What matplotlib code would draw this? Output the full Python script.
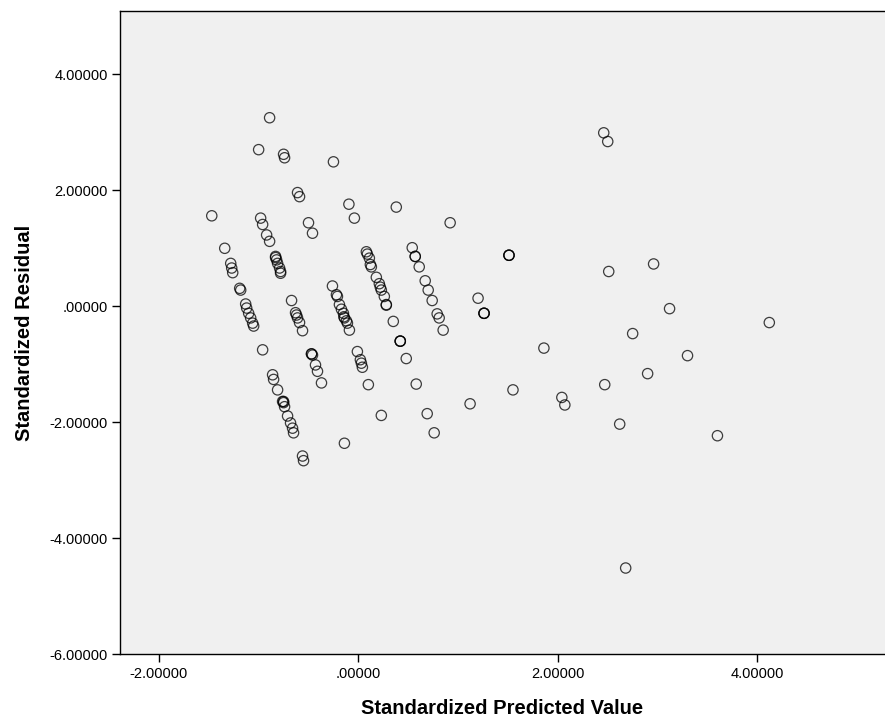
import numpy as np
import matplotlib
matplotlib.use("Agg")
import matplotlib.pyplot as plt
from matplotlib.ticker import FuncFormatter

plt.rcParams['font.family'] = ['Liberation Sans', 'DejaVu Sans']

# Standardized predicted value (x) and standardized residual (y)
pred = [
    -1.47, -1.34, -1.28, -1.27, -1.26, -1.19, -1.18,
    -1.13, -1.12, -1.10, -1.08, -1.06, -1.05,
    -1.00, -0.98, -0.96, -0.92, -0.89, -0.89,
    -0.83, -0.83, -0.82, -0.81, -0.79, -0.78, -0.78,
    -0.96,
    -0.86, -0.85, -0.81, -0.76, -0.75, -0.75, -0.74, -0.71, -0.68, -0.66, -0.65,
    -0.56, -0.55,
    -0.75, -0.74, -0.61, -0.59, -0.50, -0.46,
    -0.67, -0.63, -0.62, -0.61, -0.59, -0.56,
    -0.47, -0.47, -0.46, -0.43, -0.41, -0.37,
    -0.25, -0.095, -0.04,
    -0.26, -0.22, -0.21, -0.19, -0.17, -0.15, -0.145, -0.14, -0.12, -0.11, -0.09,
    -0.01, 0.02, 0.03, 0.04, 0.10,
    -0.14,
    0.38,
    0.08, 0.09, 0.11, 0.12, 0.13, 0.18, 0.21, 0.22, 0.23, 0.26, 0.28, 0.28,
    0.35, 0.42, 0.42, 0.42, 0.48, 0.58, 0.23,
    0.92, 0.54, 0.57, 0.57, 0.61, 0.67, 0.70, 0.74, 0.79, 0.81, 0.85,
    0.69, 0.76,
    1.12, 1.20, 1.26, 1.26, 1.26, 1.51, 1.51, 1.51, 1.55, 1.86,
    2.04, 2.07, 2.46, 2.50, 2.51, 2.47, 2.62, 2.68, 2.75, 2.90, 2.96,
    3.12, 3.30, 3.60, 4.12,
]
resid = [
    1.56, 1.00, 0.74, 0.66, 0.58, 0.31, 0.28,
    0.04, -0.03, -0.12, -0.20, -0.29, -0.34,
    2.70, 1.52, 1.41, 1.23, 1.12, 3.25,
    0.86, 0.84, 0.80, 0.74, 0.66, 0.57, 0.60,
    -0.75,
    -1.18, -1.26, -1.44, -1.64, -1.66, -1.64, -1.73, -1.89, -2.01, -2.10, -2.18,
    -2.58, -2.66,
    2.62, 2.56, 1.96, 1.89, 1.44, 1.26,
    0.10, -0.11, -0.15, -0.20, -0.28, -0.42,
    -0.82, -0.82, -0.84, -1.01, -1.12, -1.32,
    2.49, 1.76, 1.52,
    0.35, 0.20, 0.17, 0.03, -0.05, -0.12, -0.18, -0.20, -0.25, -0.29, -0.41,
    -0.78, -0.92, -0.98, -1.05, -1.35,
    -2.36,
    1.71,
    0.94, 0.90, 0.83, 0.72, 0.68, 0.50, 0.39, 0.33, 0.28, 0.17, 0.03, 0.02,
    -0.26, -0.60, -0.60, -0.60, -0.90, -1.34, -1.88,
    1.44, 1.01, 0.86, 0.86, 0.68, 0.44, 0.28, 0.10, -0.13, -0.20, -0.41,
    -1.85, -2.18,
    -1.68, 0.14, -0.12, -0.12, -0.12, 0.88, 0.88, 0.88, -1.44, -0.72,
    -1.57, -1.70, 2.99, 2.84, 0.60, -1.35, -2.03, -4.51, -0.47, -1.16, 0.73,
    -0.04, -0.85, -2.23, -0.28,
]

x_ticks = [-2, 0, 2, 4]
y_ticks = [-6, -4, -2, 0, 2, 4]


def spss_fmt(v, pos):
    s = "%.5f" % v
    if s in ("0.00000", "-0.00000"):
        return ".00000"
    return s


fig = plt.figure(figsize=(8.85, 7.17), dpi=100)
ax = fig.add_axes([0.1356, 0.0872, 0.8644, 0.8975])
ax.set_facecolor('#f0f0f0')

ax.scatter(pred, resid, s=55, facecolors='none', edgecolors='black',
           linewidths=0.9, alpha=0.75, zorder=3)

ax.set_xlim(-2.39, 5.28)
ax.set_ylim(-6, 5.09)
ax.set_xticks(x_ticks)
ax.set_yticks(y_ticks)
ax.xaxis.set_major_formatter(FuncFormatter(spss_fmt))
ax.yaxis.set_major_formatter(FuncFormatter(spss_fmt))
ax.tick_params(direction='out', length=6, width=1, labelsize=10.5, pad=3)

ax.spines['right'].set_visible(False)
for sp in ['left', 'bottom', 'top']:
    ax.spines[sp].set_linewidth(1.0)

ax.set_xlabel('Standardized Predicted Value', fontsize=14.5, fontweight='bold', labelpad=13)
ax.set_ylabel('Standardized Residual', fontsize=14.5, fontweight='bold', labelpad=11)

fig.savefig('out.png', dpi=100)
